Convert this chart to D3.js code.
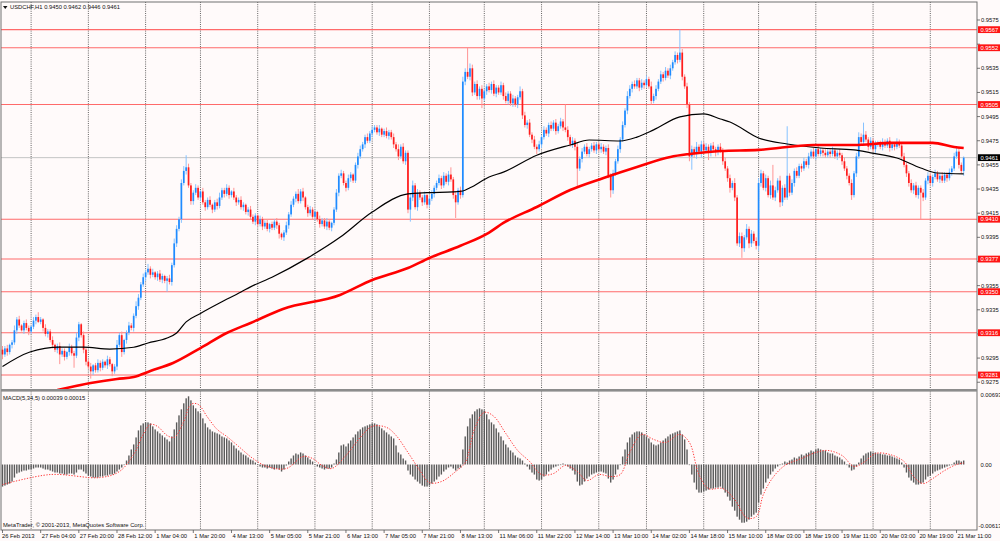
<!DOCTYPE html>
<html>
<head>
<meta charset="utf-8">
<script src="https://cdn.jsdelivr.net/npm/d3@7"></script>
<style>
  body { margin: 0; background: #fffafa; }
  svg { display: block; font-family: "Liberation Sans", Arial, sans-serif; }
</style>
</head>
<body>
<svg id="chart" width="1000" height="541"></svg>
<script>
// USDCHF H1 - closes in 1/10000 (pips), one per hourly bar
const closes = [
  9298,9303,9300,9306,9308,9318,9327,9322,9318,9324,9320,9317,9321,9326,9329,9325,9327,9320,9315,9317,
  9310,9306,9302,9305,9298,9301,9296,9300,9304,9299,9297,9312,9323,9314,9302,9292,9288,9284,9289,9285,
  9291,9287,9292,9289,9294,9290,9284,9288,9306,9314,9300,9310,9316,9322,9320,9330,9338,9345,9356,9362,
  9366,9369,9364,9366,9362,9365,9360,9363,9359,9361,9358,9372,9390,9402,9410,9440,9450,9453,9438,9425,
  9432,9436,9428,9433,9424,9420,9426,9422,9418,9424,9421,9428,9434,9431,9436,9430,9433,9428,9424,9426,
  9420,9422,9416,9418,9412,9408,9413,9406,9410,9404,9407,9402,9406,9403,9408,9405,9398,9395,9399,9405,
  9414,9422,9427,9431,9425,9433,9428,9420,9415,9418,9412,9416,9410,9406,9409,9404,9408,9403,9407,9418,
  9432,9446,9448,9440,9436,9444,9447,9442,9455,9462,9468,9472,9478,9475,9481,9484,9486,9482,9485,9480,
  9483,9479,9482,9478,9472,9468,9462,9470,9458,9465,9418,9428,9438,9420,9432,9428,9424,9430,9422,9427,
  9431,9436,9440,9444,9438,9446,9441,9447,9443,9430,9424,9434,9430,9524,9532,9528,9535,9515,9522,9512,
  9518,9510,9516,9520,9517,9522,9514,9519,9515,9521,9512,9508,9514,9506,9510,9505,9511,9516,9496,9488,
  9490,9480,9476,9470,9468,9472,9478,9484,9481,9488,9485,9490,9483,9487,9491,9486,9484,9478,9472,9475,
  9470,9452,9460,9466,9470,9464,9468,9471,9467,9472,9468,9470,9466,9469,9446,9434,9448,9458,9468,9476,
  9488,9500,9512,9518,9522,9520,9525,9519,9523,9521,9526,9520,9508,9512,9518,9524,9530,9527,9533,9529,
  9535,9540,9546,9542,9548,9528,9520,9505,9462,9468,9464,9470,9466,9472,9467,9470,9465,9471,9468,9466,
  9470,9467,9458,9452,9444,9436,9440,9428,9390,9396,9386,9395,9402,9390,9398,9392,9388,9440,9448,9436,
  9444,9430,9438,9428,9434,9442,9424,9436,9428,9446,9432,9440,9450,9446,9454,9452,9458,9455,9462,9466,
  9462,9468,9464,9467,9465,9463,9466,9464,9467,9462,9465,9463,9458,9452,9446,9440,9430,9448,9462,9478,
  9474,9480,9476,9470,9475,9468,9472,9473,9470,9474,9471,9475,9469,9472,9470,9474,9471,9462,9455,9448,
  9440,9434,9438,9430,9436,9432,9428,9442,9446,9440,9445,9448,9443,9446,9442,9447,9444,9449,9452,9462,
  9466,9455,9450,9461
];
const firstOpen = 9302;

// upper / lower shadow length of each bar, pips
const wickUp = [
  3,2,3,1,2,4,2,3,1,2,3,2,1,3,2,4,2,1,3,2,
  2,3,1,2,3,2,2,1,3,2,2,4,2,1,3,2,2,3,1,2,
  3,2,2,1,3,2,1,2,4,2,3,1,2,3,2,2,4,3,2,3,
  2,4,2,3,1,2,3,2,1,2,3,2,4,3,2,3,4,10,3,2,
  2,3,2,1,3,2,2,3,1,2,3,4,2,2,3,2,1,3,2,2,
  3,2,1,2,3,2,2,1,3,2,2,3,1,2,2,3,2,1,2,3,
  2,3,2,2,4,2,3,1,2,3,2,2,1,3,2,2,3,2,1,2,
  3,2,3,2,2,3,2,1,2,3,3,2,2,3,2,3,2,2,3,1,
  2,3,2,2,3,2,4,2,3,2,2,3,4,2,3,2,2,3,1,2,
  3,2,2,3,2,3,2,3,6,2,3,2,3,4,3,20,4,3,2,3,
  2,3,2,2,3,2,3,2,2,3,2,3,2,2,3,2,2,4,2,3,
  2,3,2,3,2,3,2,3,2,2,3,2,3,2,3,2,19,3,2,3,
  2,3,2,3,2,3,2,2,3,2,2,3,2,2,3,2,3,2,3,2,
  3,2,4,3,2,3,2,2,3,2,3,2,4,2,3,2,3,2,3,2,
  3,2,3,2,19,3,2,3,2,3,2,4,2,3,2,3,2,2,3,2,
  2,3,2,3,2,3,2,4,2,3,3,2,4,2,3,2,3,4,3,2,
  3,2,4,17,3,2,4,2,3,41,2,3,2,3,2,2,3,2,3,2,
  3,2,3,2,2,3,2,2,3,2,2,3,2,3,2,2,3,2,3,4,
  3,10,3,2,3,2,3,2,2,3,2,2,3,2,2,3,2,2,3,2,
  2,3,2,3,2,2,3,2,3,2,2,3,2,2,3,2,2,3,2,3,
  4,3,2,1
];
const wickDn = [
  4,2,3,2,3,2,3,2,1,3,2,3,2,2,3,1,2,3,2,3,
  2,3,2,3,8,2,3,2,3,2,10,2,3,2,3,3,2,6,3,2,
  2,3,2,2,3,2,4,2,3,2,4,2,3,2,2,3,2,3,2,2,
  3,2,3,2,2,3,2,3,2,9,2,3,2,3,2,3,2,3,2,3,
  3,2,2,3,2,3,2,2,3,2,3,2,2,3,2,3,2,2,3,2,
  2,3,2,3,2,2,3,2,2,3,2,2,3,2,2,3,4,2,3,2,
  3,2,2,3,2,2,3,2,3,2,2,3,2,3,2,2,3,2,3,2,
  2,3,2,2,3,2,3,2,2,3,2,2,3,2,2,3,2,2,3,2,
  2,2,3,2,3,2,3,2,2,3,3,10,3,2,3,2,3,2,3,2,
  2,3,2,2,3,2,2,3,2,3,13,2,3,2,3,2,3,3,2,3,
  3,8,2,3,2,3,2,3,2,2,3,2,3,2,3,2,3,2,3,2,
  3,2,3,2,4,2,3,2,2,3,2,2,3,2,2,3,2,3,2,3,
  3,15,2,3,2,2,3,2,2,3,2,3,2,3,2,6,3,2,2,3,
  2,2,3,2,3,2,2,3,2,3,2,2,3,2,3,2,2,3,2,2,
  3,2,2,3,2,3,2,3,4,11,3,4,2,5,3,2,6,3,2,4,
  3,2,3,2,3,4,2,3,2,3,8,3,2,4,3,2,3,4,3,2,
  3,2,3,2,3,2,4,3,2,2,3,2,3,2,2,3,2,2,3,2,
  2,3,2,2,3,2,2,3,2,2,3,2,3,2,3,2,4,2,3,2,
  2,3,2,3,2,2,3,2,2,3,2,2,3,2,3,2,2,3,2,3,
  3,2,3,2,3,22,3,2,3,2,3,2,2,3,2,2,3,2,3,2,
  2,3,2,4
];

// moving averages, [bar, pips]
const maBlack = [[0,9288],[11.5,9300],[24,9304],[34,9304],[45,9302.5],[55,9304],[61,9307.5],[69,9311.6],
  [73,9315.8],[77,9325],[83,9332],[91,9340.6],[100,9349.7],[104,9354],[113,9362],[128,9378],[141.5,9395],
  [155,9416],[170,9431],[178,9432],[189,9432.6],[193,9433.4],[196,9436],[204,9445],[210,9449],[224,9463],
  [238,9471.5],[246,9475.6],[259,9474.8],[266,9478],[273,9484],[284,9494.7],[294,9497.2],[301,9493],
  [305,9490.5],[317,9477.3],[329,9472.3],[343,9469],[357,9467.4],[364,9465],[375,9460.7],[385,9452.4],
  [392,9448.3],[403,9447.5]];
const maRed = [[23,9268.5],[37,9274.4],[48,9277.7],[55,9279.3],[62,9284.3],[71.5,9290.9],[83,9303.3],
  [94,9315.8],[104,9324.1],[117.6,9335.7],[141.5,9347.3],[155,9359.7],[170,9369.6],[179,9377.9],
  [192,9388],[204,9399],[210,9406.9],[224,9420.1],[238,9434.2],[252,9444.2],[266,9453.3],[280,9461.6],
  [288,9464],[301,9466.5],[317,9467.4],[340,9471.5],[357,9471.5],[373,9473.2],[390,9473.2],[399,9469.8],
  [403,9469]];

// MACD(5,34,5) histogram in 1/10000, one per bar
const macdHist = [
  -22,-21,-20,-19,-17,-13,-9,-8,-7,-6,-6,-5,-5,-4,-3,-3,-3,-4,-5,-5,
  -6,-7,-8,-8,-9,-9,-10,-10,-9,-9,-10,-8,-5,-5,-7,-9,-11,-12,-13,-13,
  -13,-12,-12,-11,-11,-10,-10,-9,-7,-5,-3,0,4,9,15,20,27,34,39,41,
  42,42,41,38,35,33,31,29,27,25,23,28,35,42,49,55,61,66,68,64,
  59,56,53,51,46,41,37,35,33,32,31,30,28,27,26,24,22,19,16,14,
  12,10,9,7,5,4,2,0,-2,-3,-3,-4,-3,-4,-5,-4,-5,-7,-5,-1,
  3,6,9,11,10,12,11,9,7,5,3,0,-2,-3,-4,-5,-4,-4,-3,1,
  5,12,19,20,18,21,24,27,30,33,35,37,38,39,40,41,41,40,38,36,
  34,32,30,28,26,19,12,10,6,4,-6,-10,-12,-15,-17,-19,-21,-22,-22,-21,
  -19,-17,-15,-12,-10,-7,-5,-3,-2,-4,-6,-4,-3,15,28,38,46,50,53,55,
  56,55,54,50,45,42,40,36,32,28,24,20,17,14,12,9,7,6,4,1,
  -2,-5,-8,-10,-15,-16,-15,-12,-10,-7,-5,-3,-2,-1,0,1,0,-2,-4,-6,
  -10,-17,-21,-20,-17,-14,-12,-10,-9,-8,-7,-7,-8,-9,-14,-18,-15,-10,-5,0,
  8,15,22,27,30,32,33,33,32,30,28,26,22,20,19,20,22,24,26,28,
  30,31,32,33,34,30,25,15,0,-10,-18,-25,-28,-28,-27,-26,-25,-24,-24,-23,
  -23,-22,-24,-28,-32,-36,-42,-46,-52,-55,-58,-58,-57,-55,-52,-50,-48,-38,-30,-24,
  -18,-14,-10,-7,-4,-2,0,1,3,2,4,5,7,6,8,10,9,11,12,14,
  13,15,16,15,14,14,12,11,11,9,8,7,5,3,0,-3,-6,-5,-2,2,
  6,9,11,12,13,12,12,11,11,10,10,9,9,8,7,6,5,2,-3,-8,
  -13,-16,-18,-20,-20,-19,-18,-15,-12,-11,-9,-7,-6,-5,-4,-3,-2,-1,0,2,
  4,4,3,4
];
// signal line, [bar, 1/10000]
const macdSignal = [[0,-20],[20,-10],[41,-13],[49,-7],[55,10],[59,30],[62,40],[65,38],[69,29],[72,27],
  [76,43],[79,60],[82,60],[86,47],[90,35],[94,28],[99,18],[105,6],[111,-2],[119,-4],[126,8],[130,6],
  [134,-1],[138,-4],[144,9],[150,27],[155,38],[161,37],[165,29],[170,12],[175,-6],[179,-18],[184,-17],
  [190,-7],[194,2],[198,36],[202,52],[206,48],[211,31],[216,14],[221,3],[226,-10],[231,-9],[236,-1],
  [241,-7],[245,-16],[250,-10],[255,-12],[259,-10],[263,12],[268,30],[273,25],[278,22],[284,30],
  [288,22],[292,-10],[296,-24],[302,-24],[307,-35],[312,-53],[316,-52],[319,-30],[323,-13],[328,-1],
  [335,6],[341,12],[346,14],[352,9],[357,-2],[361,2],[366,11],[372,10],[378,3],[382,-12],[386,-19],
  [390,-14],[395,-6],[400,0],[403,1.5]];

// horizontal levels and axis
const levels = [0.9567, 0.9552, 0.9505, 0.9410, 0.9377, 0.9350, 0.9316, 0.9281];
const lastPrice = 0.9461;
const priceTicks = [0.9575,0.9555,0.9535,0.9515,0.9495,0.9475,0.9455,0.9435,0.9415,0.9395,0.9375,
  0.9355,0.9335,0.9315,0.9295,0.9275];
const macdTickVals = [0.00693, 0, -0.00613];
const macdTickText = ["0.00693", "0.00", "-0.00613"];
const dayLines = [12,36,60,83,107,131,155,179,202,226,250,270,294,317,341,365,389];
const timeIdx = [0,16,32,48,64,80,96,112,128,144,160,176,192,208,224,240,256,272,288,304,320,336,352,368,384,400];
const timeLabels = ["26 Feb 2013","27 Feb 04:00","27 Feb 20:00","28 Feb 12:00","1 Mar 04:00","1 Mar 20:00",
  "4 Mar 13:00","5 Mar 05:00","5 Mar 21:00","6 Mar 13:00","7 Mar 05:00","7 Mar 21:00","8 Mar 13:00",
  "11 Mar 06:00","11 Mar 22:00","12 Mar 14:00","13 Mar 10:00","14 Mar 02:00","14 Mar 18:00","15 Mar 10:00",
  "18 Mar 03:00","18 Mar 19:00","19 Mar 11:00","20 Mar 03:00","20 Mar 19:00","21 Mar 11:00"];

// layout
const RIGHT = 977, MAIN_TOP = 2, MAIN_BOT = 389, MACD_TOP = 392, BOTTOM = 530;
const FS = "5.8px";

const svg = d3.select("#chart");

let x = d3.scaleLinear().domain([0, 403]).range([2.5, 963.7]);
let yMain = d3.scaleLinear().domain([0.92694, 0.95899]).range([MAIN_BOT, MAIN_TOP]);
let yMacd = d3.scaleLinear().domain([-0.00613, 0.00693]).range([526, 395]);

svg.append("rect").attr("width", 1000).attr("height", 541).attr("fill", "#fffafa");

let defs = svg.append("defs");
defs.append("clipPath").attr("id", "clipMain").append("rect")
    .attr("x", 1).attr("y", MAIN_TOP).attr("width", RIGHT - 1).attr("height", MAIN_BOT - MAIN_TOP);
defs.append("clipPath").attr("id", "clipMacd").append("rect")
    .attr("x", 1).attr("y", MACD_TOP).attr("width", RIGHT - 1).attr("height", BOTTOM - MACD_TOP);

// vertical dotted day grid
svg.append("g").selectAll("line").data(dayLines).join("line")
    .attr("x1", d => x(d)).attr("x2", d => x(d))
    .attr("y1", MAIN_TOP).attr("y2", BOTTOM)
    .attr("stroke", "#3c3c3c").attr("stroke-width", 0.8)
    .attr("stroke-dasharray", "1,1.2");

let main = svg.append("g").attr("clip-path", "url(#clipMain)");

// last price line
main.append("line")
    .attr("x1", 1).attr("x2", RIGHT)
    .attr("y1", yMain(lastPrice)).attr("y2", yMain(lastPrice))
    .attr("stroke", "#c4c4c4").attr("stroke-width", 1);

// support / resistance levels
main.append("g").selectAll("line").data(levels).join("line")
    .attr("x1", 1).attr("x2", RIGHT)
    .attr("y1", d => yMain(d)).attr("y2", d => yMain(d))
    .attr("stroke", "#ff6a6a").attr("stroke-width", 1.1);

// candles
let bars = closes.map(function(c, i) {
    let o = i === 0 ? firstOpen : closes[i - 1];
    return {
        i: i,
        o: o / 10000,
        c: c / 10000,
        h: (Math.max(o, c) + wickUp[i]) / 10000,
        l: (Math.min(o, c) - wickDn[i]) / 10000,
        up: c >= o
    };
});

let candles = main.append("g").selectAll("g").data(bars).join("g");
candles.append("line")
    .attr("x1", d => x(d.i)).attr("x2", d => x(d.i))
    .attr("y1", d => yMain(d.h)).attr("y2", d => yMain(d.l))
    .attr("stroke", d => d.up ? "#86c2ff" : "#ff9494")
    .attr("stroke-width", 1);
candles.append("rect")
    .attr("x", d => x(d.i) - 0.85)
    .attr("width", 1.7)
    .attr("y", d => yMain(Math.max(d.o, d.c)))
    .attr("height", d => Math.max(0.8, Math.abs(yMain(d.o) - yMain(d.c))))
    .attr("fill", d => d.up ? "#1f8bff" : "#ff1c1c");

// moving averages
let maLine = d3.line()
    .x(d => x(d[0]))
    .y(d => yMain(d[1] / 10000))
    .curve(d3.curveMonotoneX);

main.append("path").datum(maBlack)
    .attr("d", maLine)
    .attr("fill", "none").attr("stroke", "#000").attr("stroke-width", 1.2);
main.append("path").datum(maRed)
    .attr("d", maLine)
    .attr("fill", "none").attr("stroke", "#ff0000").attr("stroke-width", 2.6);

// MACD panel
let macd = svg.append("g").attr("clip-path", "url(#clipMacd)");
macd.append("g").selectAll("rect").data(macdHist).join("rect")
    .attr("x", (d, i) => x(i) - 0.7)
    .attr("width", 1.4)
    .attr("y", d => Math.min(yMacd(0), yMacd(d / 10000)))
    .attr("height", d => Math.max(0.6, Math.abs(yMacd(d / 10000) - yMacd(0))))
    .attr("fill", "#5a5a5a");

let sigLine = d3.line()
    .x(d => x(d[0]))
    .y(d => yMacd(d[1] / 10000))
    .curve(d3.curveCatmullRom);
macd.append("path").datum(macdSignal)
    .attr("d", sigLine)
    .attr("fill", "none").attr("stroke", "#ff3a3a").attr("stroke-width", 1)
    .attr("stroke-dasharray", "1.3,1.5");

// frame and panel separator
svg.append("rect")
    .attr("x", 1).attr("y", MAIN_TOP).attr("width", RIGHT - 1).attr("height", BOTTOM - MAIN_TOP)
    .attr("fill", "none").attr("stroke", "#707070").attr("stroke-width", 1);
svg.append("rect")
    .attr("x", 1).attr("y", MAIN_BOT).attr("width", RIGHT - 1).attr("height", 2.6)
    .attr("fill", "#8c8c8c");

// price axis; a tick label sitting under a level tag is hidden, as in the terminal
let visibleTicks = priceTicks.filter(t => levels.every(l => Math.abs(yMain(t) - yMain(l)) > 6));
let axis = svg.append("g").style("font-size", FS).attr("fill", "#111");
axis.selectAll(".pt").data(priceTicks).join("line")
    .attr("x1", RIGHT).attr("x2", RIGHT + 3)
    .attr("y1", d => yMain(d)).attr("y2", d => yMain(d))
    .attr("stroke", "#555").attr("stroke-width", 0.8);
axis.selectAll(".pl").data(visibleTicks).join("text")
    .attr("x", 981).attr("y", d => yMain(d) + 2)
    .text(d => d.toFixed(4));

// level labels
let lv = svg.append("g").style("font-size", FS);
lv.selectAll("rect").data(levels).join("rect")
    .attr("x", 978).attr("y", d => yMain(d) - 3.4)
    .attr("width", 22).attr("height", 6.8)
    .attr("fill", "#ff1414");
lv.selectAll("text").data(levels).join("text")
    .attr("x", 980.5).attr("y", d => yMain(d) + 2)
    .attr("fill", "#fff")
    .text(d => d.toFixed(4));

// last price label
svg.append("rect")
    .attr("x", 978).attr("y", yMain(lastPrice) - 3.4)
    .attr("width", 22).attr("height", 6.8).attr("fill", "#000");
svg.append("text")
    .attr("x", 980.5).attr("y", yMain(lastPrice) + 2)
    .style("font-size", FS).attr("fill", "#fff")
    .text(lastPrice.toFixed(4));

// MACD axis
axis.selectAll(".mt").data(macdTickVals).join("text")
    .attr("x", (d, i) => i === 2 ? 978.5 : 980.5)
    .attr("y", d => yMacd(d) + 2)
    .text((d, i) => macdTickText[i]);

// time axis
let tAxis = svg.append("g").style("font-size", FS).attr("fill", "#111");
tAxis.selectAll("line").data(timeIdx).join("line")
    .attr("x1", d => x(d)).attr("x2", d => x(d))
    .attr("y1", BOTTOM).attr("y2", BOTTOM + 3)
    .attr("stroke", "#555").attr("stroke-width", 0.8);
tAxis.selectAll("text").data(timeIdx).join("text")
    .attr("x", (d, i) => i === 0 ? 2 : x(d) + 1)
    .attr("y", 538)
    .text((d, i) => timeLabels[i]);

// captions
svg.append("path")
    .attr("d", "M3,6 L7.5,6 L5.25,9 Z").attr("fill", "#111");
svg.append("text")
    .attr("x", 10).attr("y", 9)
    .style("font-size", FS).attr("fill", "#111")
    .text("USDCHF,H1  0.9450 0.9462 0.9446 0.9461");
svg.append("text")
    .attr("x", 3).attr("y", 399.5)
    .style("font-size", FS).attr("fill", "#111")
    .text("MACD(5,34,5) 0.00039 0.00015");
svg.append("text")
    .attr("x", 3).attr("y", 527)
    .style("font-size", FS).attr("fill", "#111")
    .text("MetaTrader, \u00a9 2001-2013, MetaQuotes Software Corp.");
</script>
</body>
</html>
